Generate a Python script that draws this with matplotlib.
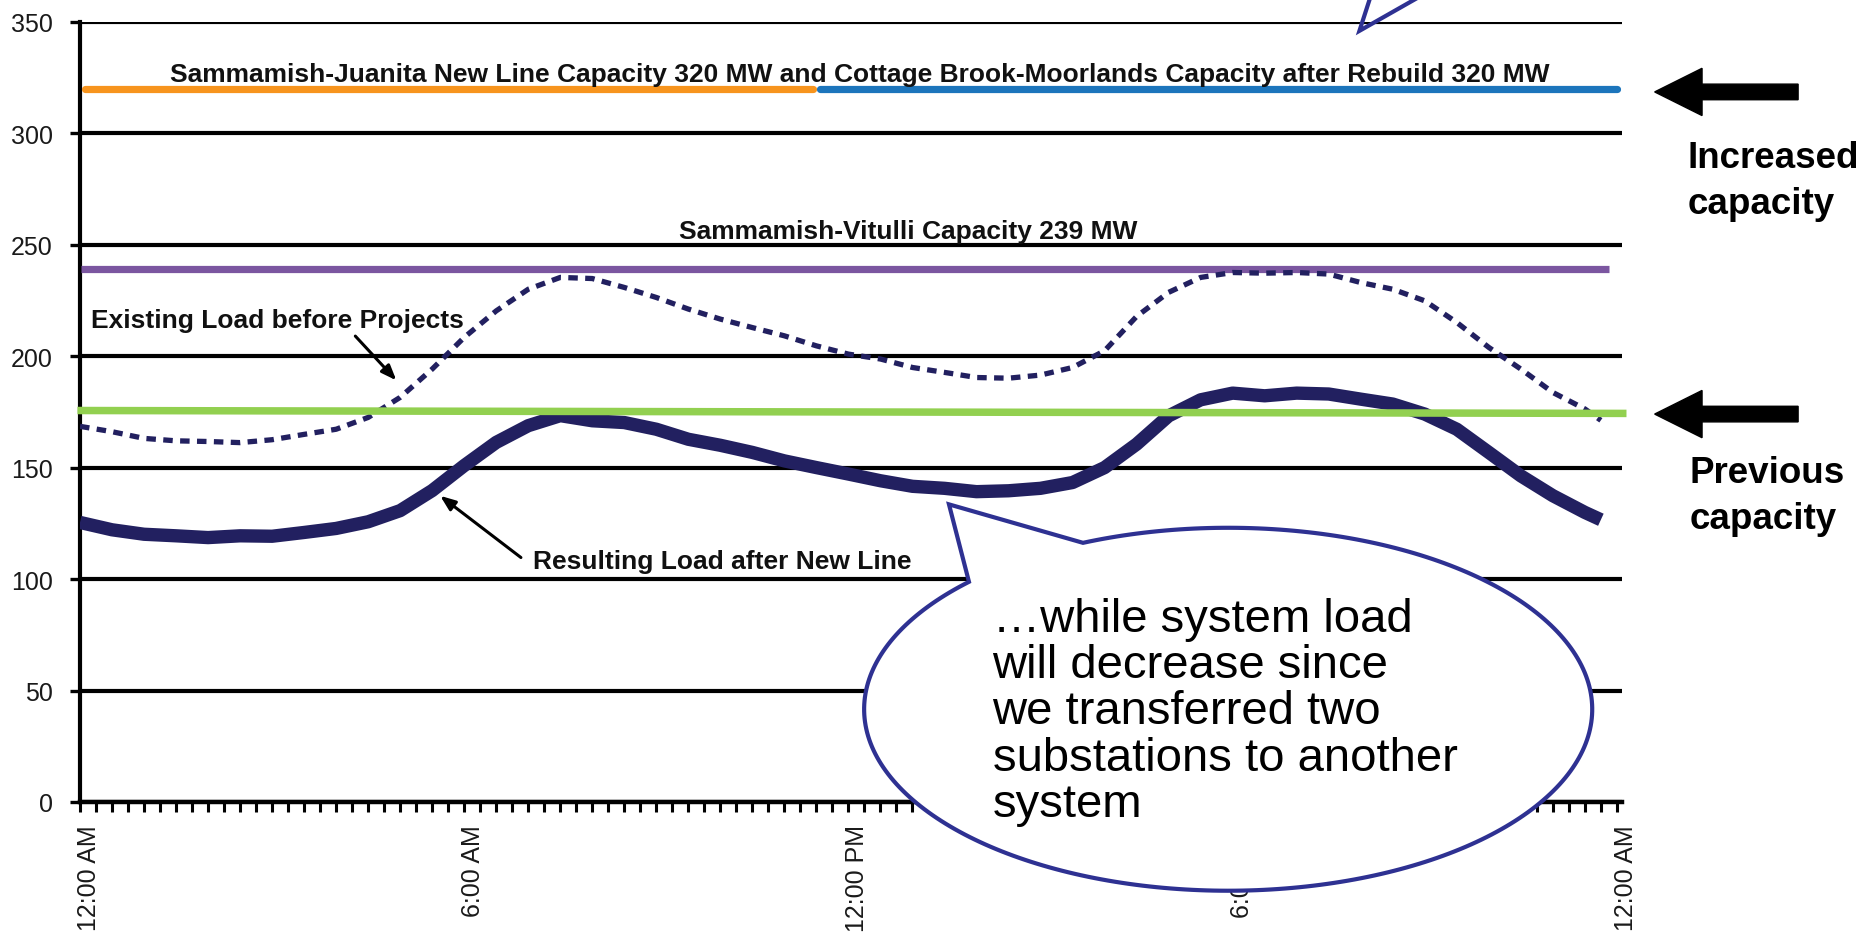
import numpy as np
import matplotlib
matplotlib.use("Agg")
import matplotlib.pyplot as plt
from matplotlib.path import Path
from matplotlib.patches import PathPatch, FancyArrow
from matplotlib.transforms import ScaledTranslation

plt.rcParams['font.family'] = ['Liberation Sans', 'DejaVu Sans']

# ---------------- data ----------------
hours = [0, 0.5, 1, 1.5, 2, 2.5, 3, 3.5, 4, 4.5, 5, 5.5, 6, 6.5, 7, 7.5,
         8, 8.5, 9, 9.5, 10, 10.5, 11, 11.5, 12, 12.5, 13, 13.5, 14, 14.5, 15, 15.5,
         16, 16.5, 17, 17.5, 18, 18.5, 19, 19.5, 20, 20.5, 21, 21.5, 22, 22.5, 23, 23.5,
         23.75]
existing_load = [168.5, 166.1, 163.1, 162.0, 161.7, 161.2, 162.5, 164.9, 167.2, 172.5,
                 181.5, 194.2, 208.4, 220.3, 230.0, 235.3,
                 234.8, 230.8, 226.3, 221.1, 216.6, 212.8, 209.1, 204.6, 200.9, 198.7,
                 194.9, 192.7, 190.4, 190.1, 191.5, 194.9,
                 202.4, 217.8, 228.6, 235.3, 237.5, 237.2, 237.5, 236.8, 233.0, 230.0,
                 224.8, 215.1, 203.9, 194.2, 183.7, 176.3,
                 171.2]
resulting_load = [125.4, 122.1, 120.1, 119.4, 118.6, 119.4, 119.2, 120.9, 122.7, 125.7,
                  130.7, 139.7, 150.9, 161.3, 168.8, 173.3,
                  171.0, 170.2, 167.2, 162.7, 160.0, 156.8, 153.0, 150.0, 147.1, 144.1,
                  141.6, 140.7, 139.2, 139.6, 140.7, 143.3,
                  150.0, 160.5, 173.2, 180.4, 183.4, 182.2, 183.4, 183.0, 180.7, 178.5,
                  174.0, 167.2, 156.8, 146.3, 137.4, 129.9,
                  126.6]

juanita_cap = 320          # Sammamish-Juanita new line
moorlands_cap = 320        # Cottage Brook-Moorlands after rebuild
vitulli_cap = 239          # Sammamish-Vitulli
previous_cap = [175.6, 174.3]   # previous capacity (green line, start / end)

major_ticks = [0, 6, 12, 18, 24]
tick_labels = ["12:00 AM", "6:00 AM", "12:00 PM", "6:00 PM", "12:00 AM"]
y_ticks = [0, 50, 100, 150, 200, 250, 300, 350]

# ---------------- figure ----------------
fig = plt.figure(figsize=(18.74, 9.45), dpi=100)
ax = fig.add_axes([80 / 1874, (945 - 803) / 945, (1622 - 80) / 1874, (803 - 22.7) / 945])
ax.set_xlim(0, 24.08)
ax.set_ylim(0, 350)

navy = '#222060'

# capacity lines
ax.plot([0.08, 11.45], [juanita_cap] * 2, color='#f7941d', lw=5.2,
        solid_capstyle='round', zorder=3)
ax.plot([11.55, 24.0], [moorlands_cap] * 2, color='#1c75bc', lw=5.2,
        solid_capstyle='round', zorder=3)
ax.plot([0.02, 23.87], [vitulli_cap] * 2, color='#7b56a0', lw=5.2,
        solid_capstyle='butt', zorder=3)
ax.plot([-0.04, 24.15], previous_cap, color='#92d050', lw=5.4,
        solid_capstyle='butt', zorder=5, clip_on=False)

# load curves
ax.plot(hours, existing_load, color=navy, lw=3.8, dashes=(1.8, 1.4),
        dash_capstyle='butt', zorder=4)
ax.plot(hours, resulting_load, color=navy, lw=9.6, solid_capstyle='butt',
        solid_joinstyle='round', zorder=4)

# axes styling
for s in ['top', 'right']:
    ax.spines[s].set_visible(False)
ax.spines['left'].set_linewidth(3)
ax.spines['bottom'].set_linewidth(3.2)
ax.set_yticks(y_ticks)
ax.yaxis.grid(True, color='black', lw=3.0)
ax.set_axisbelow(True)
ax.tick_params(axis='y', direction='out', length=7.5, width=2.4, pad=12,
               labelsize=18, labelcolor='#1a1a1a')
ax.set_xticks(major_ticks)
ax.set_xticklabels(tick_labels, rotation=90)
ax.set_xticks(np.arange(0, 24.01, 0.25), minor=True)
ax.tick_params(axis='x', which='both', direction='out', length=7, width=2.2)
ax.tick_params(axis='x', which='major', pad=9, labelsize=18, labelcolor='#1a1a1a')
shift = ScaledTranslation(9 / 100, 0, fig.dpi_scale_trans)
for lab in ax.get_xticklabels():
    lab.set_transform(lab.get_transform() + shift)

# in-chart labels
bold = dict(fontsize=19, fontweight='bold', color='#111111', va='baseline', ha='left', zorder=6)
ax.text(1.40, 323.5, "Sammamish-Juanita New Line Capacity 320 MW and Cottage Brook-Moorlands "
        "Capacity after Rebuild 320 MW", **bold)
ax.text(9.36, 253.2, "Sammamish-Vitulli Capacity 239 MW", **bold)
ax.text(0.17, 212.9, "Existing Load before Projects", **bold)
ax.text(7.07, 104.8, "Resulting Load after New Line", **bold)

ax.annotate("", xy=(4.97, 188.2), xytext=(4.27, 209.9),
            arrowprops=dict(arrowstyle='-|>,head_length=0.9,head_width=0.35', color='black', lw=2.2))
ax.annotate("", xy=(5.59, 138.1), xytext=(6.92, 108.9),
            arrowprops=dict(arrowstyle='-|>,head_length=0.9,head_width=0.35', color='black', lw=2.2))

# right-side arrows and labels
for ytip in (318.5, 174.0):
    ax.add_patch(FancyArrow(26.83, ytip, -2.24, 0, width=7.0, head_width=21.2,
                            head_length=0.74, length_includes_head=True,
                            color='black', clip_on=False, zorder=6))
side = dict(fontsize=26.5, fontweight='bold', color='black', ha='left', va='baseline',
            linespacing=1.4)
ax.text(25.10, 264.3, "Increased\ncapacity", **side)
ax.text(25.13, 123.0, "Previous\ncapacity", **side)

# speech bubble
cx, cy, a, b = 17.93, 41.6, 5.685, 81.4
t = np.radians(np.linspace(135.4, 473.5, 300))
verts = list(zip(cx + a * np.cos(t), cy + b * np.sin(t)))
verts.append((13.57, 133.5))
verts.append(verts[0])
codes = [Path.MOVETO] + [Path.LINETO] * (len(verts) - 2) + [Path.CLOSEPOLY]
ax.add_patch(PathPatch(Path(verts, codes), facecolor='white', edgecolor='#2e3192',
                       lw=3, clip_on=False, zorder=20))
ax.text(14.25, 40.6, "\u2026while system load\nwill decrease since\nwe transferred two\n"
        "substations to another\nsystem", fontsize=34, color='black', ha='left',
        va='center', linespacing=1.07, zorder=21, clip_on=False)

# partial bubble tail at the top
ax.plot([20.14, 19.98, 20.85], [360.1, 345.9, 360.1], color='#2e3192', lw=3,
        clip_on=False, zorder=20, solid_joinstyle='miter')

fig.savefig("out.png", dpi=100)
